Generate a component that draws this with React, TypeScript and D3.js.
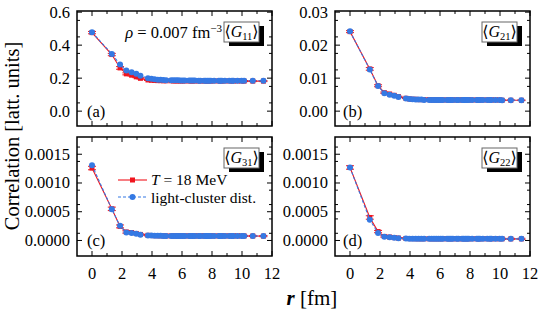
import React from 'react';
import * as d3 from 'd3';

// lattice separations r [fm]
const rFm = [0, 1.32, 1.87, 2.29, 2.64, 2.95, 3.23, 3.73, 3.96, 4.17, 4.38, 4.57, 4.76, 4.94, 5.28, 5.44, 5.6, 5.75, 5.9, 6.05, 6.19, 6.47, 6.6, 6.73, 6.86, 7.11, 7.23, 7.47, 7.58, 7.7, 7.81, 7.92, 8.14, 8.45, 8.56, 8.66, 8.86, 9.15, 9.33, 9.43, 9.7, 9.97, 10.14, 10.72, 11.43];

// T = 18 MeV (red) and light-cluster distribution (blue)
const g11Red = [0.476, 0.343, 0.262, 0.226, 0.218, 0.208, 0.199, 0.189, 0.187, 0.186, 0.185, 0.185, 0.184, 0.184, 0.184, 0.183, 0.183, 0.183, 0.183, 0.183, 0.183, 0.183, 0.183, 0.183, 0.183, 0.183, 0.183, 0.183, 0.183, 0.183, 0.183, 0.183, 0.183, 0.183, 0.183, 0.183, 0.183, 0.183, 0.183, 0.183, 0.183, 0.183, 0.182, 0.182, 0.182];
const g11Blue = [0.478, 0.347, 0.282, 0.246, 0.236, 0.226, 0.214, 0.2, 0.196, 0.193, 0.191, 0.19, 0.189, 0.188, 0.188, 0.187, 0.187, 0.187, 0.186, 0.186, 0.186, 0.186, 0.186, 0.186, 0.186, 0.185, 0.185, 0.185, 0.185, 0.185, 0.185, 0.185, 0.185, 0.185, 0.185, 0.185, 0.185, 0.185, 0.185, 0.185, 0.185, 0.185, 0.185, 0.184, 0.184];
const g11Err = [0.007, 0.007, 0.008, 0.006, 0.005, 0.005, 0.004, 0.003];

const g21Red = [0.0241, 0.0128, 0.0077, 0.0056, 0.0052, 0.0048, 0.0044, 0.0039, 0.0037, 0.0036, 0.0036, 0.0035, 0.0035, 0.0035, 0.0035, 0.0034, 0.0034, 0.0034, 0.0034, 0.0034, 0.0034, 0.0034, 0.0034, 0.0034, 0.0034, 0.0034, 0.0034, 0.0034, 0.0034, 0.0034, 0.0034, 0.0034, 0.0034, 0.0034, 0.0034, 0.0034, 0.0034, 0.0034, 0.0034, 0.0034, 0.0034, 0.0034, 0.0033, 0.0033, 0.0033];
const g21Blue = [0.0242, 0.0126, 0.0076, 0.0054, 0.005, 0.0047, 0.0043, 0.0038, 0.0037, 0.0036, 0.0035, 0.0035, 0.0035, 0.0034, 0.0034, 0.0034, 0.0034, 0.0034, 0.0034, 0.0034, 0.0034, 0.0034, 0.0034, 0.0034, 0.0034, 0.0034, 0.0034, 0.0034, 0.0034, 0.0034, 0.0034, 0.0034, 0.0034, 0.0034, 0.0034, 0.0034, 0.0034, 0.0034, 0.0034, 0.0034, 0.0034, 0.0034, 0.0033, 0.0033, 0.0033];
const g21Err = [0.0003, 0.0004, 0.0003, 0.0002, 0.0002, 0.00015, 0.00012, 0.0001];

const g31Red = [0.00126, 0.00055, 0.000245, 0.000148, 0.000138, 0.000122, 0.000105, 0.00009, 0.000086, 0.000084, 0.000083, 0.000082, 0.000081, 0.00008, 0.00008, 0.00008, 0.00008, 0.00008, 0.00008, 0.00008, 0.00008, 0.00008, 0.00008, 0.00008, 0.00008, 0.00008, 0.00008, 0.00008, 0.00008, 0.00008, 0.00008, 0.00008, 0.00008, 0.00008, 0.00008, 0.00008, 0.00008, 0.00008, 0.00008, 0.00008, 0.00008, 0.00008, 0.000079, 0.000078, 0.000076];
const g31Blue = [0.00131, 0.000545, 0.000255, 0.00014, 0.00013, 0.000115, 0.0001, 0.000088, 0.000085, 0.000083, 0.000082, 0.000081, 0.00008, 0.00008, 0.00008, 0.00008, 0.00008, 0.00008, 0.00008, 0.00008, 0.00008, 0.00008, 0.00008, 0.00008, 0.00008, 0.00008, 0.00008, 0.00008, 0.00008, 0.00008, 0.00008, 0.00008, 0.00008, 0.00008, 0.00008, 0.00008, 0.00008, 0.00008, 0.00008, 0.00008, 0.00008, 0.00008, 0.000079, 0.000078, 0.000077];
const g31Err = [0.00003, 0.00003, 0.000025, 0.00002, 0.000015, 0.000012, 0.00001, 0.00001];

const g22Red = [0.00127, 0.0004, 0.000155, 0.00007, 0.00006, 0.00005, 0.000042, 0.000035, 0.000033, 0.000032, 0.000031, 0.00003, 0.00003, 0.00003, 0.00003, 0.00003, 0.00003, 0.00003, 0.00003, 0.00003, 0.00003, 0.00003, 0.00003, 0.00003, 0.00003, 0.00003, 0.00003, 0.00003, 0.00003, 0.00003, 0.00003, 0.00003, 0.00003, 0.00003, 0.00003, 0.00003, 0.00003, 0.00003, 0.00003, 0.00003, 0.00003, 0.00003, 0.000029, 0.000028, 0.000028];
const g22Blue = [0.00127, 0.00036, 0.00013, 0.000065, 0.000055, 0.000046, 0.00004, 0.000033, 0.000031, 0.00003, 0.00003, 0.00003, 0.00003, 0.00003, 0.00003, 0.00003, 0.00003, 0.00003, 0.00003, 0.00003, 0.00003, 0.00003, 0.00003, 0.00003, 0.00003, 0.00003, 0.00003, 0.00003, 0.00003, 0.00003, 0.00003, 0.00003, 0.00003, 0.00003, 0.00003, 0.00003, 0.00003, 0.00003, 0.00003, 0.00003, 0.00003, 0.00003, 0.000029, 0.000028, 0.000028];
const g22Err = [0.00003, 0.00003, 0.00002, 0.000012, 0.00001, 0.00001, 0.00001, 0.00001];

const xMajor = [0, 2, 4, 6, 8, 10, 12];
const xMinor = [1, 3, 5, 7, 9, 11];
const ticksTop = [0, 0.2, 0.4, 0.6];
const ticksTopR = [0, 0.01, 0.02, 0.03];
const ticksBot = [0, 0.0005, 0.001, 0.0015];

const RED = '#f0141e';
const BLUE = '#3579e3';
const FONT = '"Liberation Serif", "DejaVu Serif", serif';
const FS = 16.5;

type PanelDef = {
  tag: string; sub: string;
  x0: number; x1: number; y0: number; y1: number;
  yDom: [number, number]; ticks: number[]; minorStep: number; fmt: string;
  red: number[]; blue: number[]; err: number[]; xLabels: boolean;
};

const panels: PanelDef[] = [
  { tag: '(a)', sub: '11', x0: 77, x1: 272, y0: 11, y1: 126, yDom: [-0.09, 0.607], ticks: ticksTop, minorStep: 0.1, fmt: '.1f', red: g11Red, blue: g11Blue, err: g11Err, xLabels: false },
  { tag: '(b)', sub: '21', x0: 335, x1: 530, y0: 11, y1: 126, yDom: [-0.0045, 0.03035], ticks: ticksTopR, minorStep: 0.005, fmt: '.2f', red: g21Red, blue: g21Blue, err: g21Err, xLabels: false },
  { tag: '(c)', sub: '31', x0: 77, x1: 272, y0: 137, y1: 256, yDom: [-0.00027, 0.0018], ticks: ticksBot, minorStep: 0.00025, fmt: '.4f', red: g31Red, blue: g31Blue, err: g31Err, xLabels: true },
  { tag: '(d)', sub: '22', x0: 335, x1: 530, y0: 137, y1: 256, yDom: [-0.00027, 0.0018], ticks: ticksBot, minorStep: 0.00025, fmt: '.4f', red: g22Red, blue: g22Blue, err: g22Err, xLabels: true },
];

const Panel: React.FC<{ p: PanelDef }> = ({ p }) => {
  const x = d3.scaleLinear().domain([-1, 12]).range([p.x0, p.x1]);
  const y = d3.scaleLinear().domain(p.yDom).range([p.y1, p.y0]);
  const line = d3.line<number>().x((_, i) => x(rFm[i])).y(d => y(d));
  const fmt = d3.format(p.fmt);
  const yMinor = d3.range(p.ticks[0] + p.minorStep / 2, p.yDom[1], p.minorStep)
    .filter(v => !p.ticks.some(t => Math.abs(t - v) < p.minorStep / 10));
  const errOf = (i: number) => p.err[Math.min(i, p.err.length - 1)];
  const bx = p.x1 - 48;
  const by = p.y0 + 11;

  return (
    <g>
      {/* ticks, mirrored on all sides, pointing in */}
      {xMajor.map(v => (
        <g key={'xM' + v} stroke="#000" strokeWidth={1}>
          <line x1={x(v)} x2={x(v)} y1={p.y1} y2={p.y1 - 5} />
          <line x1={x(v)} x2={x(v)} y1={p.y0} y2={p.y0 + 5} />
        </g>
      ))}
      {xMinor.map(v => (
        <g key={'xm' + v} stroke="#000" strokeWidth={1}>
          <line x1={x(v)} x2={x(v)} y1={p.y1} y2={p.y1 - 3} />
          <line x1={x(v)} x2={x(v)} y1={p.y0} y2={p.y0 + 3} />
        </g>
      ))}
      {p.ticks.map(v => (
        <g key={'yM' + v} stroke="#000" strokeWidth={1}>
          <line x1={p.x0} x2={p.x0 + 5} y1={y(v)} y2={y(v)} />
          <line x1={p.x1} x2={p.x1 - 5} y1={y(v)} y2={y(v)} />
        </g>
      ))}
      {yMinor.map(v => (
        <g key={'ym' + v} stroke="#000" strokeWidth={1}>
          <line x1={p.x0} x2={p.x0 + 3} y1={y(v)} y2={y(v)} />
          <line x1={p.x1} x2={p.x1 - 3} y1={y(v)} y2={y(v)} />
        </g>
      ))}
      {p.ticks.map(v => (
        <text key={'yl' + v} x={p.x0 - 7} y={y(v)} dy="0.33em" textAnchor="end" fontSize={FS} fontFamily={FONT}>{fmt(v)}</text>
      ))}
      {p.xLabels && xMajor.map(v => (
        <text key={'xl' + v} x={x(v)} y={p.y1 + 23} textAnchor="middle" fontSize={FS} fontFamily={FONT}>{v}</text>
      ))}

      {/* red series with error bars */}
      <path d={line(p.red) || ''} fill="none" stroke={RED} strokeWidth={1.1} />
      {p.red.map((v, i) => (
        <g key={'r' + i} stroke={RED} strokeWidth={1}>
          <line x1={x(rFm[i])} x2={x(rFm[i])} y1={y(v - errOf(i))} y2={y(v + errOf(i))} />
          <line x1={x(rFm[i]) - 4} x2={x(rFm[i]) + 4} y1={y(v - errOf(i))} y2={y(v - errOf(i))} />
          <line x1={x(rFm[i]) - 4} x2={x(rFm[i]) + 4} y1={y(v + errOf(i))} y2={y(v + errOf(i))} />
          <rect x={x(rFm[i]) - 2.5} y={y(v) - 2.5} width={5} height={5} fill={RED} stroke="none" />
        </g>
      ))}
      {/* blue series */}
      <path d={line(p.blue) || ''} fill="none" stroke={BLUE} strokeWidth={1.1} strokeDasharray="3,2" />
      {p.blue.map((v, i) => (
        <circle key={'b' + i} cx={x(rFm[i])} cy={y(v)} r={3} fill={BLUE} />
      ))}

      <rect x={p.x0} y={p.y0} width={p.x1 - p.x0} height={p.y1 - p.y0} fill="none" stroke="#000" strokeWidth={1.5} />

      <text x={p.x0 + (p.tag === '(a)' || p.tag === '(c)' ? 10 : 8)} y={y(0)} dy="0.33em" fontSize={FS} fontFamily={FONT}>{p.tag}</text>

      {/* boxed observable label with shadow */}
      <rect x={bx + 5} y={by + 4} width={35} height={20} fill="#000" />
      <rect x={bx} y={by} width={35} height={20} fill="#fff" stroke="#666" strokeWidth={1} />
      <text x={bx + 17.5} y={by + 15} textAnchor="middle" fontSize={16} fontFamily={FONT}>
        {'\u27E8'}<tspan fontStyle="italic">G</tspan><tspan fontSize={10.5} dy={3}>{p.sub}</tspan><tspan dy={-3}>{'\u27E9'}</tspan>
      </text>
    </g>
  );
};

const App: React.FC = () => {
  return (
    <svg width={540} height={314} style={{ position: 'absolute', left: 0, top: 0, background: '#fff' }}>
      {panels.map(p => <Panel key={p.tag} p={p} />)}

      <text x={222} y={38} textAnchor="end" fontSize={FS} fontFamily={FONT}>
        <tspan fontStyle="italic">ρ</tspan> = 0.007 fm<tspan fontSize={11} dy={-6}>−3</tspan>
      </text>

      {/* legend */}
      <line x1={118} x2={147} y1={180} y2={180} stroke={RED} strokeWidth={1.1} />
      <rect x={130} y={177.5} width={5} height={5} fill={RED} />
      <text x={151} y={185} fontSize={15.5} fontFamily={FONT}><tspan fontStyle="italic">T</tspan> = 18 MeV</text>
      <line x1={118} x2={147} y1={197} y2={197} stroke={BLUE} strokeWidth={1.1} strokeDasharray="3,2" />
      <circle cx={132.5} cy={197} r={3} fill={BLUE} />
      <text x={151} y={202.5} fontSize={15.5} fontFamily={FONT}>light-cluster dist.</text>

      <text transform="translate(19,136) rotate(-90)" textAnchor="middle" fontSize={20.5} fontFamily={FONT}>Correlation [latt. units]</text>
      <text x={312} y={305} textAnchor="middle" fontSize={21} fontFamily={FONT}>
        <tspan fontStyle="italic" fontWeight="bold">r</tspan> [fm]
      </text>
    </svg>
  );
};

export default App;
